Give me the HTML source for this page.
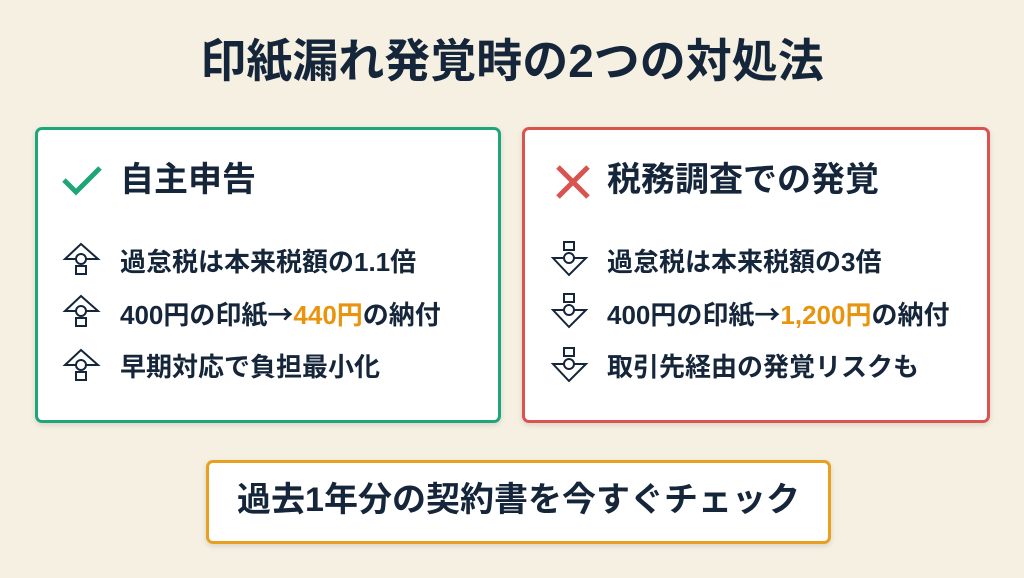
<!DOCTYPE html>
<html><head><meta charset="utf-8"><style>
body{margin:0;width:1024px;height:578px;background:#f5f0e2;font-family:"Liberation Sans","Noto Sans CJK JP",sans-serif;color:#16263a;position:relative;overflow:hidden;font-weight:bold}
.t{position:absolute;left:0;width:1024px;top:29px;text-align:center;font-size:46px;line-height:64px}
.box{position:absolute;background:#fff;border-radius:7px;box-sizing:border-box;box-shadow:0 2px 6px rgba(0,0,0,.12)}
.h{position:absolute;font-size:34px;line-height:40px;top:160px}
.i{position:absolute;font-size:26px;line-height:34px}
.o{color:#e8940f}
.a{font-family:"Noto Sans CJK JP",sans-serif}
svg{position:absolute}
</style></head><body>
<div class="t">印紙漏れ発覚時の2つの対処法</div>
<div class="box" style="left:35px;top:127px;width:466px;height:296px;border:3px solid #1fa57a"></div>
<div class="box" style="left:522px;top:127px;width:468px;height:296px;border:3px solid #d9534f"></div>
<div class="box" style="left:206px;top:460px;width:625px;height:84px;border:3px solid #e8a020"></div>

<svg style="left:60px;top:160px" width="44" height="40"><polyline points="4,20 16,32 40,8" fill="none" stroke="#1fa57a" stroke-width="5"/></svg>
<div class="h" style="left:120px">自主申告</div>
<svg style="left:555px;top:164px" width="36" height="36"><path d="M3,3L33,33M33,3L3,33" stroke="#d9534f" stroke-width="5"/></svg>
<div class="h" style="left:607px">税務調査での発覚</div>

<svg style="left:62px;top:240px" width="42" height="150">
<g fill="none" stroke="#16263a" stroke-width="2">
<g><path d="M3,19L19,4L36,19Z"/><circle cx="19" cy="19" r="5" fill="#fff"/><rect x="14" y="26" width="10" height="8"/></g>
<g transform="translate(0,52)"><path d="M3,19L19,4L36,19Z"/><circle cx="19" cy="19" r="5" fill="#fff"/><rect x="14" y="26" width="10" height="8"/></g>
<g transform="translate(0,106)"><path d="M3,19L19,4L36,19Z"/><circle cx="19" cy="19" r="5" fill="#fff"/><rect x="14" y="26" width="10" height="8"/></g>
</g></svg>
<svg style="left:550px;top:240px" width="42" height="150">
<g fill="none" stroke="#16263a" stroke-width="2">
<g><rect x="14" y="2" width="10" height="8"/><path d="M3,18L36,18L19,35Z"/><circle cx="19" cy="18" r="5" fill="#fff"/></g>
<g transform="translate(0,52)"><rect x="14" y="2" width="10" height="8"/><path d="M3,18L36,18L19,35Z"/><circle cx="19" cy="18" r="5" fill="#fff"/></g>
<g transform="translate(0,106)"><rect x="14" y="2" width="10" height="8"/><path d="M3,18L36,18L19,35Z"/><circle cx="19" cy="18" r="5" fill="#fff"/></g>
</g></svg>

<div class="i" style="left:120px;top:245px">過怠税は本来税額の1.1倍</div>
<div class="i" style="left:120px;top:297px">400円の印紙<span class="a">→</span><span class="o">440円</span>の納付</div>
<div class="i" style="left:120px;top:350px">早期対応で負担最小化</div>
<div class="i" style="left:607px;top:245px">過怠税は本来税額の3倍</div>
<div class="i" style="left:607px;top:297px">400円の印紙<span class="a">→</span><span class="o">1,200円</span>の納付</div>
<div class="i" style="left:607px;top:350px">取引先経由の発覚リスクも</div>

<div style="position:absolute;left:206px;width:625px;top:480px;text-align:center;font-size:34px;line-height:40px">過去1年分の契約書を今すぐチェック</div>
</body></html>
